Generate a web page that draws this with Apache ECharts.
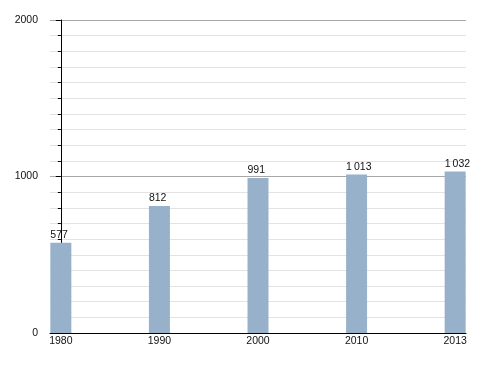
<!DOCTYPE html>
<html>
<head>
<meta charset="utf-8">
<script src="https://cdn.jsdelivr.net/npm/echarts@6/dist/echarts.min.js"></script>
<style>html,body{margin:0;padding:0;background:#fff}#c{width:495px;height:373px}</style>
</head>
<body>
<div id="c"></div>
<script>
var years = ['1980', '1990', '2000', '2010', '2013'];
var population = [577, 812, 991, 1013, 1032];
var yTicks = [0, 1000, 2000];

function fmt(v) {
  return String(v).replace(/\B(?=(\d{3})+(?!\d))/g, '\u2009');
}

var chart = echarts.init(document.getElementById('c'), null, {renderer: 'canvas'});
chart.setOption({
  animation: false,
  grid: {left: 50, right: 29, top: 20, bottom: 40},
  xAxis: {
    type: 'value',
    min: -0.11,
    max: 4.11,
    splitLine: {show: false},
    axisLine: {show: true, lineStyle: {color: '#000', width: 1}},
    axisTick: {show: false},
    axisLabel: {
      customValues: years.map(function (y, i) { return i; }),
      formatter: function (v) { return years[Math.round(v)]; },
      fontFamily: 'Liberation Sans, Arial, sans-serif',
      fontSize: 10.5,
      color: '#111',
      margin: 3
    }
  },
  yAxis: {
    type: 'value',
    min: yTicks[0],
    max: yTicks[yTicks.length - 1],
    interval: 1000,
    axisLine: {show: true, lineStyle: {color: '#000', width: 1}},
    axisTick: {show: true, length: 5, lineStyle: {color: '#000'}},
    minorTick: {show: true, splitNumber: 10, length: 3, lineStyle: {color: '#000'}},
    splitLine: {show: true, lineStyle: {color: '#a8a8a8', width: 1}},
    minorSplitLine: {show: true, lineStyle: {color: '#e3e3e3', width: 1}},
    axisLabel: {
      formatter: function (v) { return String(v); },
      fontFamily: 'Liberation Sans, Arial, sans-serif',
      fontSize: 10.5,
      color: '#111',
      margin: 12
    }
  },
  series: [{
    type: 'bar',
    barWidth: 21,
    data: population.map(function (v, i) { return [i, v]; }),
    itemStyle: {color: '#97b1cb'},
    label: {
      show: true,
      position: [0, -2],
      align: 'left',
      verticalAlign: 'bottom',
      fontFamily: 'Liberation Sans, Arial, sans-serif',
      fontSize: 10.5,
      color: '#111',
      formatter: function (p) { return fmt(p.value[1]); }
    }
  }]
});
</script>
</body>
</html>
